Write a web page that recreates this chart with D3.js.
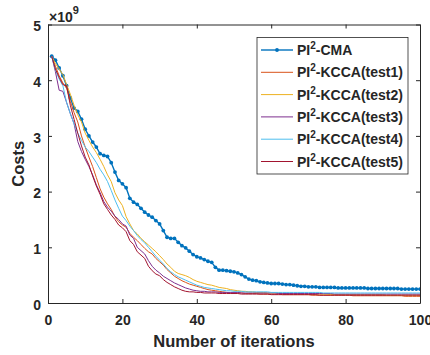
<!DOCTYPE html>
<html><head><meta charset="utf-8">
<script src="https://cdn.jsdelivr.net/npm/d3@7"></script>
<style>
body{margin:0;background:#fff}
svg{display:block}
text{font-family:"Liberation Sans",Arial,Helvetica,sans-serif;font-weight:bold;fill:#262626}
</style>
</head><body>
<svg id="chart" width="430" height="355"></svg>
<script>
// costs in units of 1e9
const iterations = d3.range(1, 101);
const cma = [4.43,4.36,4.22,4.08,3.90,3.68,3.50,3.44,3.30,3.12,
 3.00,2.89,2.80,2.68,2.65,2.63,2.52,2.35,2.20,2.14,
 2.07,1.88,1.81,1.77,1.70,1.63,1.58,1.54,1.48,1.42,
 1.30,1.18,1.16,1.16,1.09,1.03,0.99,0.93,0.87,0.83,
 0.81,0.78,0.75,0.73,0.64,0.59,0.59,0.58,0.57,0.56,
 0.54,0.51,0.47,0.43,0.41,0.40,0.38,0.37,0.36,0.35,
 0.35,0.35,0.34,0.33,0.33,0.32,0.31,0.30,0.30,0.29,
 0.29,0.29,0.28,0.28,0.28,0.28,0.28,0.27,0.27,0.27,
 0.27,0.27,0.27,0.27,0.27,0.26,0.26,0.26,0.26,0.26,
 0.26,0.26,0.26,0.26,0.25,0.25,0.25,0.25,0.25,0.25];
const test1 = [4.43,4.25,4.08,3.95,3.86,3.62,3.42,3.25,3.00,2.80,
 2.62,2.45,2.25,2.05,1.90,1.78,1.68,1.55,1.46,1.40,
 1.36,1.25,1.18,1.12,1.05,0.98,0.92,0.88,0.80,0.74,
 0.68,0.60,0.54,0.48,0.44,0.40,0.37,0.34,0.32,0.30,
 0.28,0.26,0.24,0.23,0.22,0.21,0.20,0.19,0.18,0.18,
 0.18,0.18,0.17,0.17,0.17,0.17,0.16,0.16,0.16,0.16,
 0.16,0.16,0.15,0.15,0.15,0.15,0.15,0.15,0.15,0.15,
 0.14,0.14,0.14,0.14,0.14,0.14,0.14,0.14,0.14,0.14,
 0.14,0.13,0.13,0.13,0.13,0.13,0.13,0.13,0.13,0.13,
 0.13,0.13,0.13,0.13,0.13,0.12,0.12,0.12,0.12,0.12];
const test2 = [4.43,4.30,4.20,4.10,3.92,3.75,3.55,3.38,3.25,3.05,
 2.92,2.80,2.70,2.58,2.45,2.30,2.18,1.98,1.85,1.75,
 1.55,1.42,1.30,1.24,1.16,1.10,1.04,0.98,0.92,0.85,
 0.78,0.70,0.64,0.57,0.53,0.51,0.49,0.46,0.42,0.39,
 0.37,0.35,0.33,0.32,0.30,0.28,0.27,0.26,0.24,0.23,
 0.22,0.21,0.21,0.20,0.20,0.19,0.19,0.19,0.18,0.18,
 0.18,0.18,0.17,0.17,0.17,0.17,0.17,0.16,0.16,0.16,
 0.16,0.16,0.16,0.16,0.16,0.15,0.15,0.15,0.15,0.15,
 0.15,0.15,0.15,0.15,0.15,0.15,0.15,0.15,0.15,0.15,
 0.14,0.14,0.14,0.14,0.14,0.14,0.14,0.14,0.14,0.14];
const test3 = [4.43,4.15,3.82,3.80,3.60,3.40,3.22,2.90,2.72,2.58,
 2.45,2.30,2.12,1.98,1.82,1.72,1.65,1.56,1.50,1.42,
 1.38,1.22,1.16,1.00,0.94,0.88,0.76,0.66,0.59,0.54,
 0.48,0.44,0.40,0.36,0.33,0.30,0.27,0.25,0.23,0.22,
 0.21,0.21,0.20,0.20,0.20,0.19,0.19,0.19,0.19,0.19,
 0.19,0.18,0.18,0.18,0.18,0.18,0.18,0.18,0.18,0.18,
 0.18,0.17,0.17,0.17,0.17,0.17,0.17,0.17,0.17,0.17,
 0.17,0.17,0.17,0.17,0.17,0.17,0.16,0.16,0.16,0.16,
 0.16,0.16,0.16,0.16,0.16,0.16,0.16,0.16,0.16,0.16,
 0.16,0.16,0.16,0.16,0.16,0.16,0.16,0.16,0.16,0.16];
const test4 = [4.43,4.18,4.02,3.90,3.60,3.40,3.22,3.05,2.92,2.80,
 2.72,2.62,2.52,2.40,2.30,2.18,2.02,1.85,1.70,1.56,
 1.48,1.38,1.30,1.21,1.14,1.08,1.00,0.92,0.84,0.77,
 0.70,0.62,0.56,0.51,0.47,0.44,0.41,0.38,0.35,0.32,
 0.30,0.28,0.27,0.26,0.25,0.24,0.23,0.22,0.22,0.21,
 0.21,0.21,0.20,0.20,0.20,0.20,0.20,0.20,0.20,0.19,
 0.19,0.19,0.19,0.19,0.19,0.19,0.19,0.19,0.19,0.19,
 0.19,0.19,0.19,0.18,0.18,0.18,0.18,0.18,0.18,0.18,
 0.18,0.18,0.18,0.18,0.18,0.18,0.18,0.18,0.18,0.18,
 0.18,0.18,0.18,0.18,0.18,0.18,0.18,0.18,0.18,0.18];
const test5 = [4.43,4.20,4.05,3.92,3.90,3.55,3.30,3.05,2.82,2.62,
 2.48,2.28,2.10,1.95,1.78,1.68,1.58,1.50,1.40,1.35,
 1.28,1.12,1.05,0.92,0.86,0.80,0.66,0.58,0.52,0.49,
 0.42,0.37,0.33,0.29,0.26,0.23,0.21,0.20,0.20,0.19,
 0.19,0.18,0.18,0.18,0.18,0.17,0.17,0.17,0.17,0.17,
 0.17,0.16,0.16,0.16,0.16,0.16,0.16,0.16,0.16,0.15,
 0.15,0.15,0.15,0.15,0.15,0.15,0.15,0.15,0.15,0.15,
 0.15,0.15,0.14,0.14,0.14,0.14,0.14,0.14,0.14,0.14,
 0.14,0.14,0.14,0.14,0.14,0.14,0.14,0.14,0.14,0.14,
 0.14,0.14,0.14,0.14,0.14,0.14,0.14,0.14,0.14,0.14];

const seriesValues = [cma, test1, test2, test3, test4, test5];
const seriesSuffix = ["-CMA", "-KCCA(test1)", "-KCCA(test2)", "-KCCA(test3)", "-KCCA(test4)", "-KCCA(test5)"];
const seriesColors = ["#0072BD", "#D95319", "#EDB120", "#7E2F8E", "#4DBEEE", "#A2142F"];
const xTicks = [0, 20, 40, 60, 80, 100];
const yTicks = [0, 1, 2, 3, 4, 5];
const xLabel = "Number of iterations";
const yLabel = "Costs";

const svg = d3.select("#chart");
const L = 48, R = 420, T = 24.5, B = 303;
const x = d3.scaleLinear().domain([0, 100]).range([L, R]);
const y = d3.scaleLinear().domain([0, 5]).range([B, T]);
const axisColor = "#262626";

svg.append("defs").append("clipPath").attr("id", "clip")
  .append("rect").attr("x", L).attr("y", T).attr("width", R - L).attr("height", B - T);

const line = d3.line().x((d, i) => x(iterations[i])).y(d => y(d));
const plot = svg.append("g").attr("clip-path", "url(#clip)");
seriesValues.forEach((vals, k) => {
  plot.append("path").datum(vals)
    .attr("fill", "none")
    .attr("stroke", seriesColors[k])
    .attr("stroke-width", k === 0 ? 1.4 : 1)
    .attr("stroke-linejoin", "round")
    .attr("d", line);
  if (k === 0) {
    plot.selectAll("circle.m").data(vals).enter().append("circle")
      .attr("cx", (d, i) => x(iterations[i])).attr("cy", d => y(d))
      .attr("r", 1.9).attr("fill", seriesColors[0]);
  }
});

function styleAxis(g) {
  g.selectAll("path.domain").attr("stroke", axisColor).attr("stroke-width", 1);
  g.selectAll(".tick line").attr("stroke", axisColor).attr("stroke-width", 1);
  g.selectAll(".tick text").attr("fill", axisColor)
    .style("font-size", "14px").style("font-family", '"Liberation Sans",Arial,sans-serif').style("font-weight", "bold");
}
const fmt = d3.format("d");
svg.append("g").attr("transform", `translate(0,${B})`)
  .call(d3.axisBottom(x).tickValues(xTicks).tickFormat(fmt).tickSizeInner(-4).tickSizeOuter(0).tickPadding(12))
  .call(styleAxis);
svg.append("g").attr("transform", `translate(${L},0)`)
  .call(d3.axisLeft(y).tickValues(yTicks).tickFormat(fmt).tickSizeInner(-4).tickSizeOuter(0).tickPadding(7))
  .call(styleAxis)
  .selectAll(".tick text").attr("dy", "0.45em");
svg.append("g").attr("transform", `translate(0,${T})`)
  .call(d3.axisTop(x).tickValues(xTicks).tickSizeInner(-4).tickSizeOuter(0).tickFormat(""))
  .call(styleAxis);
svg.append("g").attr("transform", `translate(${R},0)`)
  .call(d3.axisRight(y).tickValues(yTicks).tickSizeInner(-4).tickSizeOuter(0).tickFormat(""))
  .call(styleAxis);

const ex = svg.append("text").attr("x", 49).attr("y", 22).style("font-size", "14px");
ex.append("tspan").text("\u00d710");
ex.append("tspan").attr("dy", -8).style("font-size", "11px").text("9");

svg.append("text").attr("x", (L + R) / 2).attr("y", 347).attr("text-anchor", "middle")
  .style("font-size", "16.5px").text(xLabel);
svg.append("text").attr("transform", `translate(24,${(T + B) / 2}) rotate(-90)`)
  .attr("text-anchor", "middle").style("font-size", "16.5px").text(yLabel);

const lg = svg.append("g");
lg.append("rect").attr("x", 257).attr("y", 37.5).attr("width", 151).attr("height", 136.5)
  .attr("fill", "#fff").attr("stroke", axisColor).attr("stroke-width", 0.8);
seriesSuffix.forEach((s, k) => {
  const yy = 50 + k * 22.3;
  lg.append("line").attr("x1", 261).attr("x2", 293).attr("y1", yy).attr("y2", yy)
    .attr("stroke", seriesColors[k]).attr("stroke-width", k === 0 ? 1.4 : 1);
  if (k === 0) lg.append("circle").attr("cx", 277).attr("cy", yy).attr("r", 1.9).attr("fill", seriesColors[0]);
  const t = lg.append("text").attr("x", 297).attr("y", yy + 5).style("font-size", "14px");
  t.append("tspan").text("PI");
  t.append("tspan").attr("dy", -6).style("font-size", "10px").text("2");
  t.append("tspan").attr("dy", 6).text(s);
});
</script>
</body></html>
